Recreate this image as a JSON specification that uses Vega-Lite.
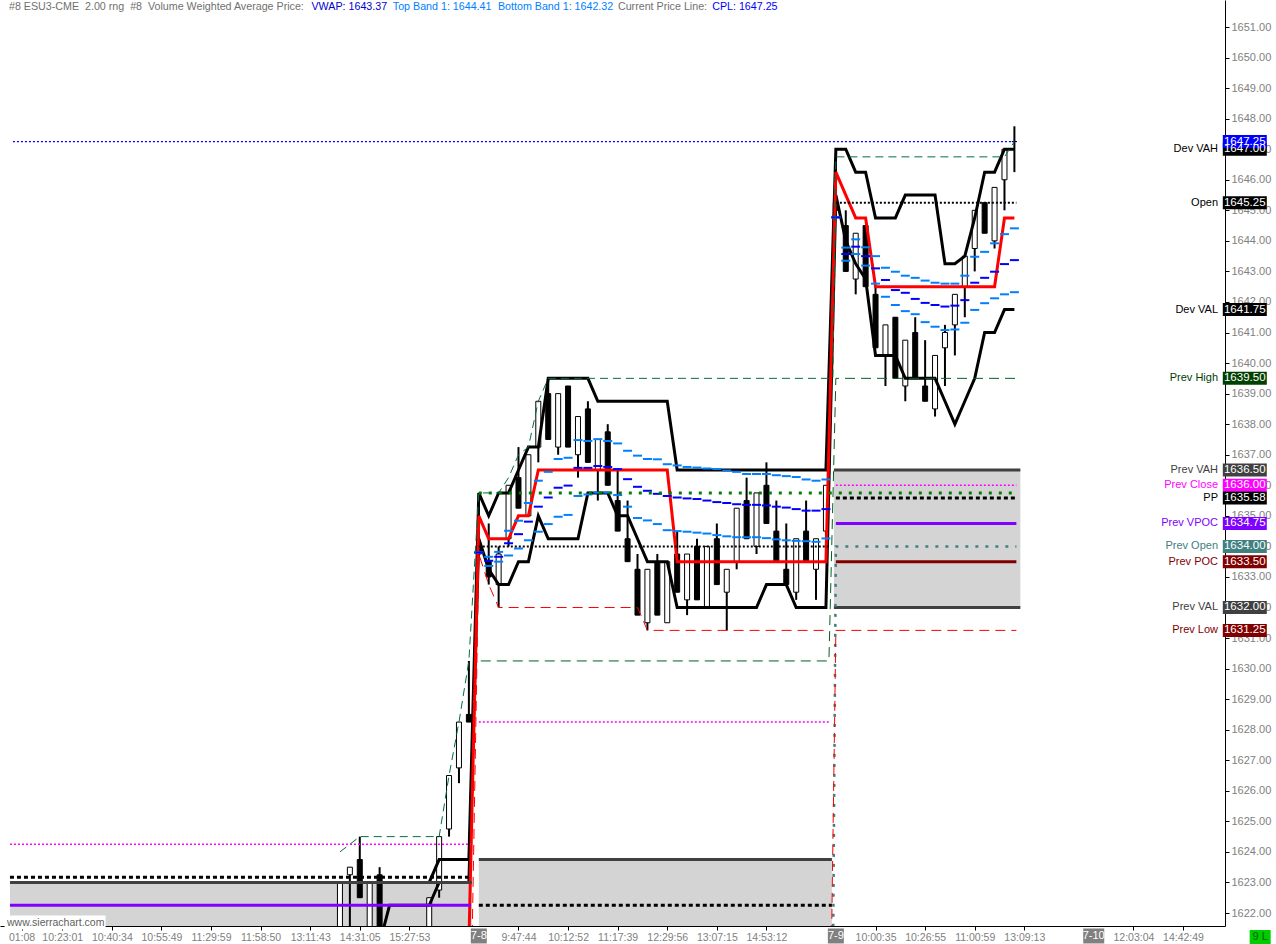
{
  "$schema": "https://vega.github.io/schema/vega-lite/v6.json",
  "width": 1225,
  "height": 926,
  "autosize": {"type": "none"},
  "padding": {"left": 0, "top": 0, "right": 51, "bottom": 18},
  "background": "#ffffff",
  "config": {
    "view": {"stroke": null},
    "axis": {"grid": false, "labelFont": "Liberation Sans", "labelFontSize": 11, "labelColor": "#808080", "tickColor": "#000000", "domainColor": "#000000", "tickSize": 4, "labelPadding": 2},
    "axisY": {"labelOverlap": false, "labelBound": false, "tickCount": 30},
    "axisX": {"labelOverlap": false, "labelBound": false},
    "tick": {"opacity": 1},
    "text": {"font": "Liberation Sans", "fontSize": 11}
  },
  "datasets": {
    "va": [
      {"k1": -0.27, "k2": 46.3, "top": 1623.0, "bot": 1621.0},
      {"k1": 47.0, "k2": 82.6, "top": 1623.75, "bot": 1621.0},
      {"k1": 82.8, "k2": 101.6, "top": 1636.5, "bot": 1632.0}
    ],
    "bars": [
      {"k": 33, "o": 1621.0, "h": 1623.0, "l": 1621.0, "c": 1623.0},
      {"k": 34, "o": 1623.25, "h": 1623.5, "l": 1621.5, "c": 1623.5},
      {"k": 35, "o": 1623.75, "h": 1624.5, "l": 1622.5, "c": 1622.5},
      {"k": 36, "o": 1621.0, "h": 1623.0, "l": 1621.0, "c": 1623.0},
      {"k": 37, "o": 1623.25, "h": 1623.5, "l": 1621.5, "c": 1621.5},
      {"k": 42, "o": 1620.5, "h": 1622.5, "l": 1620.5, "c": 1622.5},
      {"k": 43, "o": 1622.75, "h": 1624.5, "l": 1622.5, "c": 1624.5},
      {"k": 44, "o": 1624.75, "h": 1626.5, "l": 1624.5, "c": 1626.5},
      {"k": 45, "o": 1626.75, "h": 1628.25, "l": 1626.25, "c": 1628.25},
      {"k": 46, "o": 1628.5, "h": 1630.25, "l": 1628.25, "c": 1628.25},
      {"k": 47, "o": 1634.0, "h": 1635.75, "l": 1633.75, "c": 1633.75},
      {"k": 48, "o": 1633.5, "h": 1634.75, "l": 1632.75, "c": 1633.0},
      {"k": 49, "o": 1632.75, "h": 1634.0, "l": 1632.0, "c": 1633.75},
      {"k": 50, "o": 1634.25, "h": 1636.0, "l": 1634.0, "c": 1636.0},
      {"k": 51, "o": 1636.25, "h": 1637.25, "l": 1635.25, "c": 1635.25},
      {"k": 52, "o": 1635.0, "h": 1637.0, "l": 1635.0, "c": 1637.0},
      {"k": 53, "o": 1637.25, "h": 1638.75, "l": 1636.75, "c": 1638.75},
      {"k": 54, "o": 1639.0, "h": 1639.5, "l": 1637.5, "c": 1637.5},
      {"k": 55, "o": 1637.25, "h": 1639.0, "l": 1637.0, "c": 1639.0},
      {"k": 56, "o": 1639.25, "h": 1639.25, "l": 1637.25, "c": 1637.25},
      {"k": 57, "o": 1637.0, "h": 1638.25, "l": 1636.25, "c": 1638.25},
      {"k": 58, "o": 1638.5, "h": 1638.75, "l": 1636.75, "c": 1636.75},
      {"k": 59, "o": 1636.5, "h": 1637.5, "l": 1635.5, "c": 1637.5},
      {"k": 60, "o": 1637.75, "h": 1638.0, "l": 1636.0, "c": 1636.0},
      {"k": 61, "o": 1635.5, "h": 1636.5, "l": 1634.5, "c": 1634.5},
      {"k": 62, "o": 1634.25, "h": 1635.5, "l": 1633.5, "c": 1633.5},
      {"k": 63, "o": 1633.25, "h": 1633.75, "l": 1631.75, "c": 1631.75},
      {"k": 64, "o": 1631.5, "h": 1633.25, "l": 1631.25, "c": 1633.25},
      {"k": 65, "o": 1633.5, "h": 1633.75, "l": 1631.75, "c": 1631.75},
      {"k": 66, "o": 1631.5, "h": 1633.5, "l": 1631.5, "c": 1633.5},
      {"k": 67, "o": 1633.75, "h": 1634.5, "l": 1632.5, "c": 1632.5},
      {"k": 68, "o": 1632.25, "h": 1633.75, "l": 1631.75, "c": 1633.75},
      {"k": 69, "o": 1634.0, "h": 1634.25, "l": 1632.25, "c": 1632.25},
      {"k": 70, "o": 1632.0, "h": 1634.0, "l": 1632.0, "c": 1634.0},
      {"k": 71, "o": 1634.25, "h": 1634.75, "l": 1632.75, "c": 1632.75},
      {"k": 72, "o": 1632.5, "h": 1633.25, "l": 1631.25, "c": 1633.25},
      {"k": 73, "o": 1633.5, "h": 1635.25, "l": 1633.25, "c": 1635.25},
      {"k": 74, "o": 1635.5, "h": 1636.25, "l": 1634.25, "c": 1634.25},
      {"k": 75, "o": 1634.0, "h": 1635.75, "l": 1633.75, "c": 1635.75},
      {"k": 76, "o": 1636.0, "h": 1636.75, "l": 1634.75, "c": 1634.75},
      {"k": 77, "o": 1634.5, "h": 1635.5, "l": 1633.5, "c": 1633.5},
      {"k": 78, "o": 1633.25, "h": 1634.75, "l": 1632.75, "c": 1632.75},
      {"k": 79, "o": 1632.5, "h": 1634.25, "l": 1632.25, "c": 1634.25},
      {"k": 80, "o": 1634.5, "h": 1635.5, "l": 1633.5, "c": 1633.5},
      {"k": 81, "o": 1633.25, "h": 1634.25, "l": 1632.25, "c": 1634.25},
      {"k": 82, "o": 1634.5, "h": 1636.0, "l": 1634.0, "c": 1636.0},
      {"k": 83, "o": 1645.25, "h": 1646.75, "l": 1644.75, "c": 1645.0},
      {"k": 84, "o": 1644.5, "h": 1645.0, "l": 1643.0, "c": 1643.0},
      {"k": 85, "o": 1642.75, "h": 1644.25, "l": 1642.25, "c": 1644.25},
      {"k": 86, "o": 1644.5, "h": 1644.5, "l": 1642.5, "c": 1642.5},
      {"k": 87, "o": 1642.25, "h": 1642.5, "l": 1640.5, "c": 1640.5},
      {"k": 88, "o": 1640.25, "h": 1641.25, "l": 1639.25, "c": 1641.25},
      {"k": 89, "o": 1641.5, "h": 1641.5, "l": 1639.5, "c": 1639.5},
      {"k": 90, "o": 1639.25, "h": 1640.75, "l": 1638.75, "c": 1640.75},
      {"k": 91, "o": 1641.0, "h": 1641.5, "l": 1639.5, "c": 1639.5},
      {"k": 92, "o": 1639.25, "h": 1640.75, "l": 1638.75, "c": 1638.75},
      {"k": 93, "o": 1638.5, "h": 1640.25, "l": 1638.25, "c": 1640.25},
      {"k": 94, "o": 1640.5, "h": 1641.25, "l": 1639.25, "c": 1641.0},
      {"k": 95, "o": 1641.25, "h": 1642.25, "l": 1640.25, "c": 1642.25},
      {"k": 96, "o": 1642.5, "h": 1643.5, "l": 1641.5, "c": 1643.5},
      {"k": 97, "o": 1643.75, "h": 1645.0, "l": 1643.0, "c": 1645.0},
      {"k": 98, "o": 1645.25, "h": 1645.25, "l": 1644.25, "c": 1644.25},
      {"k": 99, "o": 1644.0, "h": 1645.75, "l": 1643.75, "c": 1645.75},
      {"k": 100, "o": 1646.0, "h": 1647.0, "l": 1645.0, "c": 1647.0},
      {"k": 101, "o": 1647.25, "h": 1647.75, "l": 1646.25, "c": 1647.25}
    ],
    "dev": [
      {"k": 33, "vah": 1623.0, "val": 1621.0, "poc": 1621.0},
      {"k": 37, "vah": 1623.0, "val": 1621.0, "poc": 1621.0},
      {"k": 38, "vah": 1623.0, "val": 1622.25, "poc": 1621.0},
      {"k": 42, "vah": 1623.0, "val": 1622.25, "poc": 1621.0},
      {"k": 43, "vah": 1623.75, "val": 1623.0, "poc": 1621.0},
      {"k": 46, "vah": 1623.75, "val": 1623.0, "poc": 1621.0},
      {"k": 47, "vah": 1635.75, "val": 1634.25, "poc": 1635.0},
      {"k": 48, "vah": 1635.0, "val": 1633.25, "poc": 1634.25},
      {"k": 49, "vah": 1635.75, "val": 1632.75, "poc": 1634.25},
      {"k": 50, "vah": 1635.75, "val": 1632.75, "poc": 1634.25},
      {"k": 51, "vah": 1636.5, "val": 1633.5, "poc": 1635.0},
      {"k": 52, "vah": 1637.25, "val": 1633.5, "poc": 1635.0},
      {"k": 53, "vah": 1637.25, "val": 1635.0, "poc": 1636.5},
      {"k": 54, "vah": 1639.5, "val": 1634.25, "poc": 1636.5},
      {"k": 57, "vah": 1639.5, "val": 1634.25, "poc": 1636.5},
      {"k": 58, "vah": 1639.5, "val": 1635.75, "poc": 1636.5},
      {"k": 59, "vah": 1638.75, "val": 1635.75, "poc": 1636.5},
      {"k": 60, "vah": 1638.75, "val": 1635.75, "poc": 1636.5},
      {"k": 61, "vah": 1638.75, "val": 1635.0, "poc": 1636.5},
      {"k": 62, "vah": 1638.75, "val": 1635.0, "poc": 1636.5},
      {"k": 63, "vah": 1638.75, "val": 1634.25, "poc": 1636.5},
      {"k": 64, "vah": 1638.75, "val": 1633.5, "poc": 1636.5},
      {"k": 66, "vah": 1638.75, "val": 1633.5, "poc": 1636.5},
      {"k": 67, "vah": 1636.5, "val": 1632.0, "poc": 1633.5},
      {"k": 75, "vah": 1636.5, "val": 1632.0, "poc": 1633.5},
      {"k": 76, "vah": 1636.5, "val": 1632.75, "poc": 1633.5},
      {"k": 78, "vah": 1636.5, "val": 1632.75, "poc": 1633.5},
      {"k": 79, "vah": 1636.5, "val": 1632.0, "poc": 1633.5},
      {"k": 82, "vah": 1636.5, "val": 1632.0, "poc": 1633.5},
      {"k": 83, "vah": 1647.0, "val": 1645.5, "poc": 1646.25},
      {"k": 84, "vah": 1647.0, "val": 1644.0, "poc": 1645.5},
      {"k": 85, "vah": 1646.25, "val": 1643.25, "poc": 1644.75},
      {"k": 86, "vah": 1646.25, "val": 1642.75, "poc": 1644.75},
      {"k": 87, "vah": 1644.75, "val": 1640.25, "poc": 1642.5},
      {"k": 89, "vah": 1644.75, "val": 1640.25, "poc": 1642.5},
      {"k": 90, "vah": 1645.5, "val": 1639.5, "poc": 1642.5},
      {"k": 93, "vah": 1645.5, "val": 1639.5, "poc": 1642.5},
      {"k": 94, "vah": 1643.25, "val": 1638.75, "poc": 1642.5},
      {"k": 95, "vah": 1643.25, "val": 1638.0, "poc": 1642.5},
      {"k": 96, "vah": 1643.5, "val": 1638.75, "poc": 1642.5},
      {"k": 97, "vah": 1644.75, "val": 1639.5, "poc": 1642.5},
      {"k": 98, "vah": 1646.25, "val": 1641.0, "poc": 1642.5},
      {"k": 99, "vah": 1646.25, "val": 1641.0, "poc": 1642.5},
      {"k": 100, "vah": 1647.0, "val": 1641.75, "poc": 1644.75},
      {"k": 101, "vah": 1647.0, "val": 1641.75, "poc": 1644.75}
    ],
    "vwap": [
      {"k": 47, "vw": 1633.8, "up": 1633.8, "dn": 1633.8},
      {"k": 48, "vw": 1633.53, "up": 1633.66, "dn": 1633.36},
      {"k": 49, "vw": 1633.66, "up": 1633.82, "dn": 1633.5},
      {"k": 50, "vw": 1634.1, "up": 1634.51, "dn": 1633.7},
      {"k": 51, "vw": 1634.4, "up": 1634.84, "dn": 1633.93},
      {"k": 52, "vw": 1634.81, "up": 1635.42, "dn": 1634.2},
      {"k": 53, "vw": 1635.3, "up": 1636.15, "dn": 1634.48},
      {"k": 54, "vw": 1635.6, "up": 1636.44, "dn": 1634.73},
      {"k": 55, "vw": 1635.92, "up": 1636.86, "dn": 1634.97},
      {"k": 56, "vw": 1635.99, "up": 1636.9, "dn": 1635.03},
      {"k": 57, "vw": 1636.57, "up": 1637.48, "dn": 1635.65},
      {"k": 58, "vw": 1636.57, "up": 1637.45, "dn": 1635.7},
      {"k": 59, "vw": 1636.63, "up": 1637.51, "dn": 1635.76},
      {"k": 60, "vw": 1636.6, "up": 1637.45, "dn": 1635.76},
      {"k": 61, "vw": 1636.53, "up": 1637.37, "dn": 1635.68},
      {"k": 62, "vw": 1636.2, "up": 1637.13, "dn": 1635.3},
      {"k": 63, "vw": 1635.95, "up": 1636.97, "dn": 1634.93},
      {"k": 64, "vw": 1635.82, "up": 1636.86, "dn": 1634.85},
      {"k": 65, "vw": 1635.72, "up": 1636.85, "dn": 1634.73},
      {"k": 66, "vw": 1635.65, "up": 1636.69, "dn": 1634.53},
      {"k": 67, "vw": 1635.6, "up": 1636.65, "dn": 1634.5},
      {"k": 68, "vw": 1635.57, "up": 1636.6, "dn": 1634.48},
      {"k": 69, "vw": 1635.55, "up": 1636.58, "dn": 1634.45},
      {"k": 70, "vw": 1635.5, "up": 1636.55, "dn": 1634.42},
      {"k": 71, "vw": 1635.45, "up": 1636.53, "dn": 1634.37},
      {"k": 72, "vw": 1635.42, "up": 1636.48, "dn": 1634.33},
      {"k": 73, "vw": 1635.38, "up": 1636.44, "dn": 1634.3},
      {"k": 74, "vw": 1635.36, "up": 1636.37, "dn": 1634.3},
      {"k": 75, "vw": 1635.36, "up": 1636.37, "dn": 1634.3},
      {"k": 76, "vw": 1635.34, "up": 1636.37, "dn": 1634.27},
      {"k": 77, "vw": 1635.3, "up": 1636.33, "dn": 1634.23},
      {"k": 78, "vw": 1635.27, "up": 1636.3, "dn": 1634.2},
      {"k": 79, "vw": 1635.22, "up": 1636.27, "dn": 1634.18},
      {"k": 80, "vw": 1635.17, "up": 1636.19, "dn": 1634.17},
      {"k": 81, "vw": 1635.17, "up": 1636.15, "dn": 1634.15},
      {"k": 82, "vw": 1635.22, "up": 1636.19, "dn": 1634.26},
      {"k": 83, "vw": 1644.77, "up": 1644.77, "dn": 1644.77},
      {"k": 84, "vw": 1643.57, "up": 1643.78, "dn": 1643.35},
      {"k": 85, "vw": 1643.81, "up": 1644.05, "dn": 1643.57},
      {"k": 86, "vw": 1643.5, "up": 1643.79, "dn": 1643.19},
      {"k": 87, "vw": 1643.1, "up": 1643.5, "dn": 1642.6},
      {"k": 88, "vw": 1642.72, "up": 1643.12, "dn": 1642.17},
      {"k": 89, "vw": 1642.39, "up": 1642.99, "dn": 1641.9},
      {"k": 90, "vw": 1642.3, "up": 1642.86, "dn": 1641.7},
      {"k": 91, "vw": 1642.1, "up": 1642.79, "dn": 1641.6},
      {"k": 92, "vw": 1641.97, "up": 1642.7, "dn": 1641.34},
      {"k": 93, "vw": 1641.9, "up": 1642.63, "dn": 1641.19},
      {"k": 94, "vw": 1641.85, "up": 1642.6, "dn": 1641.08},
      {"k": 95, "vw": 1641.88, "up": 1642.6, "dn": 1641.1},
      {"k": 96, "vw": 1642.06, "up": 1642.86, "dn": 1641.32},
      {"k": 97, "vw": 1642.63, "up": 1643.48, "dn": 1641.74},
      {"k": 98, "vw": 1642.79, "up": 1643.64, "dn": 1641.96},
      {"k": 99, "vw": 1642.99, "up": 1643.92, "dn": 1642.12},
      {"k": 100, "vw": 1643.24, "up": 1644.22, "dn": 1642.25},
      {"k": 101, "vw": 1643.37, "up": 1644.41, "dn": 1642.32}
    ],
    "levels": [
      {"s": "cpl", "g": "cpl", "k": 0.03, "v": 1647.25},
      {"s": "cpl", "g": "cpl", "k": 101.2, "v": 1647.25},
      {"s": "pvah", "g": "pvah1", "k": -0.27, "v": 1623.0},
      {"s": "pvah", "g": "pvah1", "k": 46.3, "v": 1623.0},
      {"s": "pvah", "g": "pvah2", "k": 47.0, "v": 1623.75},
      {"s": "pvah", "g": "pvah2", "k": 82.6, "v": 1623.75},
      {"s": "pvah", "g": "pvah3", "k": 82.8, "v": 1636.5},
      {"s": "pvah", "g": "pvah3", "k": 101.6, "v": 1636.5},
      {"s": "pval", "g": "pval3", "k": 82.8, "v": 1632.0},
      {"s": "pval", "g": "pval3", "k": 101.6, "v": 1632.0},
      {"s": "pclose", "g": "pc1", "k": -0.27, "v": 1624.25},
      {"s": "pclose", "g": "pc1", "k": 46.2, "v": 1624.25},
      {"s": "pclose", "g": "pc2", "k": 47.0, "v": 1628.25},
      {"s": "pclose", "g": "pc2", "k": 82.3, "v": 1628.25},
      {"s": "pclose", "g": "pc3", "k": 83.0, "v": 1636.0},
      {"s": "pclose", "g": "pc3", "k": 101.2, "v": 1636.0},
      {"s": "pp", "g": "pp1", "k": -0.27, "v": 1623.17},
      {"s": "pp", "g": "pp1", "k": 46.2, "v": 1623.17},
      {"s": "pp", "g": "pp2", "k": 47.0, "v": 1622.25},
      {"s": "pp", "g": "pp2", "k": 82.6, "v": 1622.25},
      {"s": "pp", "g": "pp3", "k": 83.0, "v": 1635.58},
      {"s": "pp", "g": "pp3", "k": 101.2, "v": 1635.58},
      {"s": "vpoc", "g": "vp1", "k": -0.27, "v": 1622.25},
      {"s": "vpoc", "g": "vp1", "k": 46.2, "v": 1622.25},
      {"s": "vpoc", "g": "vp3", "k": 83.0, "v": 1634.75},
      {"s": "vpoc", "g": "vp3", "k": 101.2, "v": 1634.75},
      {"s": "open", "g": "op2", "k": 47.0, "v": 1634.0},
      {"s": "open", "g": "op2", "k": 82.3, "v": 1634.0},
      {"s": "open", "g": "op3", "k": 83.0, "v": 1645.25},
      {"s": "open", "g": "op3", "k": 101.2, "v": 1645.25},
      {"s": "popen", "g": "po3", "k": 82.6, "v": 1615.0},
      {"s": "popen", "g": "po3", "k": 83.0, "v": 1634.0},
      {"s": "popen", "g": "po3", "k": 101.2, "v": 1634.0},
      {"s": "ppoc", "g": "pq3", "k": 83.0, "v": 1633.5},
      {"s": "ppoc", "g": "pq3", "k": 101.2, "v": 1633.5},
      {"s": "plow", "g": "pl3", "k": 82.3, "v": 1615.0},
      {"s": "plow", "g": "pl3", "k": 83.0, "v": 1631.25},
      {"s": "plow", "g": "pl3", "k": 101.2, "v": 1631.25},
      {"s": "phigh", "g": "ph", "k": 47.2, "v": 1630.25},
      {"s": "phigh", "g": "ph", "k": 82.3, "v": 1630.25},
      {"s": "phigh", "g": "ph", "k": 83.0, "v": 1639.5},
      {"s": "phigh", "g": "ph", "k": 101.2, "v": 1639.5},
      {"s": "gdot", "g": "gd", "k": 47.0, "v": 1635.75},
      {"s": "gdot", "g": "gd", "k": 101.2, "v": 1635.75},
      {"s": "hi", "g": "hi", "k": 33, "v": 1624.0},
      {"s": "hi", "g": "hi", "k": 35, "v": 1624.5},
      {"s": "hi", "g": "hi", "k": 43, "v": 1624.5},
      {"s": "hi", "g": "hi", "k": 44, "v": 1626.5},
      {"s": "hi", "g": "hi", "k": 45, "v": 1628.25},
      {"s": "hi", "g": "hi", "k": 46, "v": 1630.25},
      {"s": "hi", "g": "hi", "k": 47, "v": 1635.75},
      {"s": "hi", "g": "hi", "k": 49, "v": 1635.75},
      {"s": "hi", "g": "hi", "k": 50, "v": 1636.25},
      {"s": "hi", "g": "hi", "k": 51, "v": 1637.0},
      {"s": "hi", "g": "hi", "k": 52, "v": 1637.25},
      {"s": "hi", "g": "hi", "k": 53, "v": 1638.75},
      {"s": "hi", "g": "hi", "k": 54, "v": 1639.5},
      {"s": "hi", "g": "hi", "k": 82.7, "v": 1639.5},
      {"s": "hi", "g": "hi", "k": 83, "v": 1646.75},
      {"s": "hi", "g": "hi", "k": 100, "v": 1646.75},
      {"s": "hi", "g": "hi", "k": 101, "v": 1647.25},
      {"s": "lo", "g": "lo", "k": 46, "v": 1615.0},
      {"s": "lo", "g": "lo", "k": 47, "v": 1633.75},
      {"s": "lo", "g": "lo", "k": 48, "v": 1632.75},
      {"s": "lo", "g": "lo", "k": 49, "v": 1632.0},
      {"s": "lo", "g": "lo", "k": 63, "v": 1632.0},
      {"s": "lo", "g": "lo", "k": 64, "v": 1631.25},
      {"s": "lo", "g": "lo", "k": 82.3, "v": 1631.25}
    ],
    "labels": [
      {"name": "Dev VAH", "v": 1647.0, "lab": "1647.00"},
      {"name": "CPL", "v": 1647.25, "lab": "1647.25"},
      {"name": "Open", "v": 1645.25, "lab": "1645.25"},
      {"name": "Dev VAL", "v": 1641.75, "lab": "1641.75"},
      {"name": "Prev High", "v": 1639.5, "lab": "1639.50"},
      {"name": "Prev VAH", "v": 1636.5, "lab": "1636.50"},
      {"name": "Prev Close", "v": 1636.0, "lab": "1636.00"},
      {"name": "PP", "v": 1635.58, "lab": "1635.58"},
      {"name": "Prev VPOC", "v": 1634.75, "lab": "1634.75"},
      {"name": "Prev Open", "v": 1634.0, "lab": "1634.00"},
      {"name": "Prev POC", "v": 1633.5, "lab": "1633.50"},
      {"name": "Prev VAL", "v": 1632.0, "lab": "1632.00"},
      {"name": "Prev Low", "v": 1631.25, "lab": "1631.25"}
    ],
    "days": [
      {"k": 47, "lab": "7-8"},
      {"k": 83, "lab": "7-9"},
      {"k": 109, "lab": "7-10"}
    ]
  },
  "layer": [
    {
      "data": {"name": "va"},
      "mark": {"type": "rect", "color": "#d4d4d4", "clip": true},
      "encoding": {
        "x": {"field": "k1", "type": "quantitative", "title": null, "scale": {"domain": [-0.77, 121.73], "nice": false, "zero": false},
          "axis": {"orient": "bottom", "labelFontSize": 10.5, "labelOverlap": false, "labelBound": false,
            "values": [0.9, 5, 10, 15, 20, 25, 30, 35, 40, 51, 56, 61, 66, 71, 76, 87, 92, 97, 102, 113, 118],
            "labelExpr": "['01:08','10:23:01','10:40:34','10:55:49','11:29:59','11:58:50','13:11:43','14:31:05','15:27:53','9:47:44','10:12:52','11:17:39','12:29:56','13:07:15','14:53:12','10:00:35','10:26:55','11:00:59','13:09:13','12:03:04','14:42:49'][indexof([0.9,5,10,15,20,25,30,35,40,51,56,61,66,71,76,87,92,97,102,113,118], datum.value)]"}},
        "x2": {"field": "k2"},
        "y": {"field": "top", "type": "quantitative", "title": null, "scale": {"domain": [1621.5745, 1651.884], "nice": false, "zero": false},
          "axis": {"orient": "right", "format": ".2f", "labelOverlap": false, "labelBound": false, "tickCount": 30,
            "values": [1622, 1623, 1624, 1625, 1626, 1627, 1628, 1629, 1630, 1631, 1632, 1633, 1634, 1635, 1636, 1637, 1638, 1639, 1640, 1641, 1642, 1643, 1644, 1645, 1646, 1647, 1648, 1649, 1650, 1651]}},
        "y2": {"field": "bot"}
      }
    },
    {
      "data": {"name": "bars"},
      "mark": {"type": "rule", "color": "#000000", "strokeWidth": 2, "clip": true},
      "encoding": {
        "x": {"field": "k", "type": "quantitative", "title": null},
        "y": {"field": "l", "type": "quantitative", "title": null},
        "y2": {"field": "h"}
      }
    },
    {
      "data": {"name": "bars"},
      "mark": {"type": "bar", "width": 5, "stroke": "#000000", "strokeWidth": 1, "clip": true},
      "encoding": {
        "x": {"field": "k", "type": "quantitative", "title": null},
        "y": {"field": "o", "type": "quantitative", "title": null},
        "y2": {"field": "c"},
        "fill": {"condition": {"test": "datum.c < datum.o", "value": "#000000"}, "value": "#ffffff"}
      }
    },
    {
      "data": {"name": "dev"},
      "mark": {"type": "line", "color": "#000000", "strokeWidth": 3, "clip": true},
      "encoding": {
        "x": {"field": "k", "type": "quantitative", "title": null},
        "y": {"field": "vah", "type": "quantitative", "title": null}
      }
    },
    {
      "data": {"name": "dev"},
      "mark": {"type": "line", "color": "#000000", "strokeWidth": 3, "clip": true},
      "encoding": {
        "x": {"field": "k", "type": "quantitative", "title": null},
        "y": {"field": "val", "type": "quantitative", "title": null}
      }
    },
    {
      "data": {"name": "dev"},
      "mark": {"type": "line", "color": "#ff0000", "strokeWidth": 3, "clip": true},
      "encoding": {
        "x": {"field": "k", "type": "quantitative", "title": null},
        "y": {"field": "poc", "type": "quantitative", "title": null}
      }
    },
    {
      "data": {"name": "vwap"},
      "mark": {"type": "tick", "orient": "horizontal", "size": 9, "thickness": 2, "color": "#0080ff", "opacity": 1, "clip": true},
      "encoding": {
        "x": {"field": "k", "type": "quantitative", "title": null},
        "y": {"field": "up", "type": "quantitative", "title": null}
      }
    },
    {
      "data": {"name": "vwap"},
      "mark": {"type": "tick", "orient": "horizontal", "size": 9, "thickness": 2, "color": "#0080ff", "opacity": 1, "clip": true},
      "encoding": {
        "x": {"field": "k", "type": "quantitative", "title": null},
        "y": {"field": "dn", "type": "quantitative", "title": null}
      }
    },
    {
      "data": {"name": "vwap"},
      "mark": {"type": "tick", "orient": "horizontal", "size": 9, "thickness": 2, "color": "#0000ff", "opacity": 1, "clip": true},
      "encoding": {
        "x": {"field": "k", "type": "quantitative", "title": null},
        "y": {"field": "vw", "type": "quantitative", "title": null}
      }
    },
    {
      "data": {"name": "levels"},
      "mark": {"type": "line", "clip": true},
      "encoding": {
        "x": {"field": "k", "type": "quantitative", "title": null},
        "y": {"field": "v", "type": "quantitative", "title": null},
        "detail": {"field": "g", "type": "nominal"},
        "stroke": {"field": "s", "type": "nominal", "legend": null,
          "scale": {"domain": ["cpl", "pvah", "pval", "pclose", "pp", "vpoc", "open", "popen", "ppoc", "plow", "phigh", "gdot", "hi", "lo"],
            "range": ["#0000ff", "#404040", "#404040", "#ff00ff", "#000000", "#8000ff", "#000000", "#408080", "#800000", "#ff0000", "#006020", "#008000", "#007040", "#ff0000"]}},
        "strokeDash": {"field": "s", "type": "nominal", "legend": null,
          "scale": {"domain": ["cpl", "pvah", "pval", "pclose", "pp", "vpoc", "open", "popen", "ppoc", "plow", "phigh", "gdot", "hi", "lo"],
            "range": [[2, 2], [1, 0], [1, 0], [2, 2], [4, 3], [1, 0], [2, 2], [3, 7], [1, 0], [10, 6], [10, 6], [3, 7], [8, 5], [10, 6]]}},
        "strokeWidth": {"field": "s", "type": "nominal", "legend": null,
          "scale": {"type": "ordinal", "domain": ["cpl", "pvah", "pval", "pclose", "pp", "vpoc", "open", "popen", "ppoc", "plow", "phigh", "gdot", "hi", "lo"],
            "range": [1.2, 3, 3, 1.5, 3, 3, 2, 2.5, 3, 1, 1, 3, 1, 1]}}
      }
    },
    {
      "data": {"name": "labels"},
      "mark": {"type": "tick", "orient": "horizontal", "size": 44, "thickness": 13, "opacity": 1},
      "encoding": {
        "x": {"datum": 124.23, "type": "quantitative"},
        "y": {"field": "v", "type": "quantitative", "title": null},
        "fill": {"field": "name", "type": "nominal", "legend": null,
          "scale": {"domain": ["Dev VAH", "CPL", "Open", "Dev VAL", "Prev High", "Prev VAH", "Prev Close", "PP", "Prev VPOC", "Prev Open", "Prev POC", "Prev VAL", "Prev Low"],
            "range": ["#000000", "#0000ff", "#000000", "#000000", "#004000", "#404040", "#ff00ff", "#000000", "#8000ff", "#408080", "#800000", "#404040", "#800000"]}}
      }
    },
    {
      "data": {"name": "labels"},
      "mark": {"type": "text", "align": "left", "baseline": "middle", "color": "#ffffff", "fontSize": 11.5},
      "encoding": {
        "x": {"datum": 122.13, "type": "quantitative"},
        "y": {"field": "v", "type": "quantitative", "title": null},
        "text": {"field": "lab"}
      }
    },
    {
      "data": {"name": "labels"},
      "transform": [{"filter": "datum.name != 'CPL'"}],
      "mark": {"type": "text", "align": "right", "baseline": "middle", "fontSize": 11},
      "encoding": {
        "x": {"datum": 121.53, "type": "quantitative"},
        "y": {"field": "v", "type": "quantitative", "title": null},
        "text": {"field": "name"},
        "fill": {"field": "name", "type": "nominal", "legend": null}
      }
    },
    {
      "data": {"values": [{"t": "#8 ESU3-CME\u00a0\u00a02.00 rng\u00a0\u00a0#8\u00a0\u00a0Volume Weighted Average Price:"}]},
      "mark": {"type": "text", "align": "left", "baseline": "middle", "color": "#707070", "fontSize": 10.7},
      "encoding": {"x": {"datum": -0.37, "type": "quantitative"}, "y": {"datum": 1651.655, "type": "quantitative"}, "text": {"field": "t"}}
    },
    {
      "data": {"values": [{"t": "VWAP: 1643.37"}]},
      "mark": {"type": "text", "align": "left", "baseline": "middle", "color": "#0000d0", "fontSize": 10.7},
      "encoding": {"x": {"datum": 30.13, "type": "quantitative"}, "y": {"datum": 1651.655, "type": "quantitative"}, "text": {"field": "t"}}
    },
    {
      "data": {"values": [{"t": "Top Band 1: 1644.41"}]},
      "mark": {"type": "text", "align": "left", "baseline": "middle", "color": "#0080ff", "fontSize": 10.7},
      "encoding": {"x": {"datum": 38.33, "type": "quantitative"}, "y": {"datum": 1651.655, "type": "quantitative"}, "text": {"field": "t"}}
    },
    {
      "data": {"values": [{"t": "Bottom Band 1: 1642.32"}]},
      "mark": {"type": "text", "align": "left", "baseline": "middle", "color": "#0080ff", "fontSize": 10.7},
      "encoding": {"x": {"datum": 48.93, "type": "quantitative"}, "y": {"datum": 1651.655, "type": "quantitative"}, "text": {"field": "t"}}
    },
    {
      "data": {"values": [{"t": "Current Price Line:"}]},
      "mark": {"type": "text", "align": "left", "baseline": "middle", "color": "#707070", "fontSize": 10.7},
      "encoding": {"x": {"datum": 61.03, "type": "quantitative"}, "y": {"datum": 1651.655, "type": "quantitative"}, "text": {"field": "t"}}
    },
    {
      "data": {"values": [{"t": "CPL: 1647.25"}]},
      "mark": {"type": "text", "align": "left", "baseline": "middle", "color": "#0000ff", "fontSize": 10.7},
      "encoding": {"x": {"datum": 70.53, "type": "quantitative"}, "y": {"datum": 1651.655, "type": "quantitative"}, "text": {"field": "t"}}
    },
    {
      "data": {"values": [{"t": "www.sierrachart.com"}]},
      "mark": {"type": "tick", "orient": "horizontal", "size": 101, "thickness": 14, "color": "#ffffff", "opacity": 1},
      "encoding": {"x": {"datum": 4.28, "type": "quantitative"}, "y": {"datum": 1621.687, "type": "quantitative"}}
    },
    {
      "data": {"values": [{"t": "www.sierrachart.com"}]},
      "mark": {"type": "text", "align": "left", "baseline": "middle", "color": "#606060", "fontSize": 10.5},
      "encoding": {"x": {"datum": -0.57, "type": "quantitative"}, "y": {"datum": 1621.687, "type": "quantitative"}, "text": {"field": "t"}}
    },
    {
      "data": {"name": "days"},
      "mark": {"type": "tick", "orient": "horizontal", "thickness": 15, "color": "#808080", "opacity": 1},
      "encoding": {
        "x": {"field": "k", "type": "quantitative", "title": null},
        "y": {"datum": 1621.248, "type": "quantitative"},
        "size": {"field": "lab", "type": "nominal", "legend": null, "scale": {"type": "ordinal", "domain": ["7-8", "7-9", "7-10"], "range": [16, 16, 21]}}
      }
    },
    {
      "data": {"name": "days"},
      "mark": {"type": "text", "align": "center", "baseline": "middle", "color": "#ffffff", "fontSize": 11},
      "encoding": {
        "x": {"field": "k", "type": "quantitative", "title": null},
        "y": {"datum": 1621.248, "type": "quantitative"},
        "text": {"field": "lab"}
      }
    },
    {
      "data": {"values": [{"t": "9 L"}]},
      "mark": {"type": "tick", "orient": "horizontal", "size": 21, "thickness": 14, "color": "#00cc00", "opacity": 1},
      "encoding": {"x": {"datum": 125.78, "type": "quantitative"}, "y": {"datum": 1621.215, "type": "quantitative"}}
    },
    {
      "data": {"values": [{"t": "9 L"}]},
      "mark": {"type": "text", "align": "center", "baseline": "middle", "color": "#006400", "fontSize": 11},
      "encoding": {"x": {"datum": 125.78, "type": "quantitative"}, "y": {"datum": 1621.215, "type": "quantitative"}, "text": {"field": "t"}}
    }
  ]
}
